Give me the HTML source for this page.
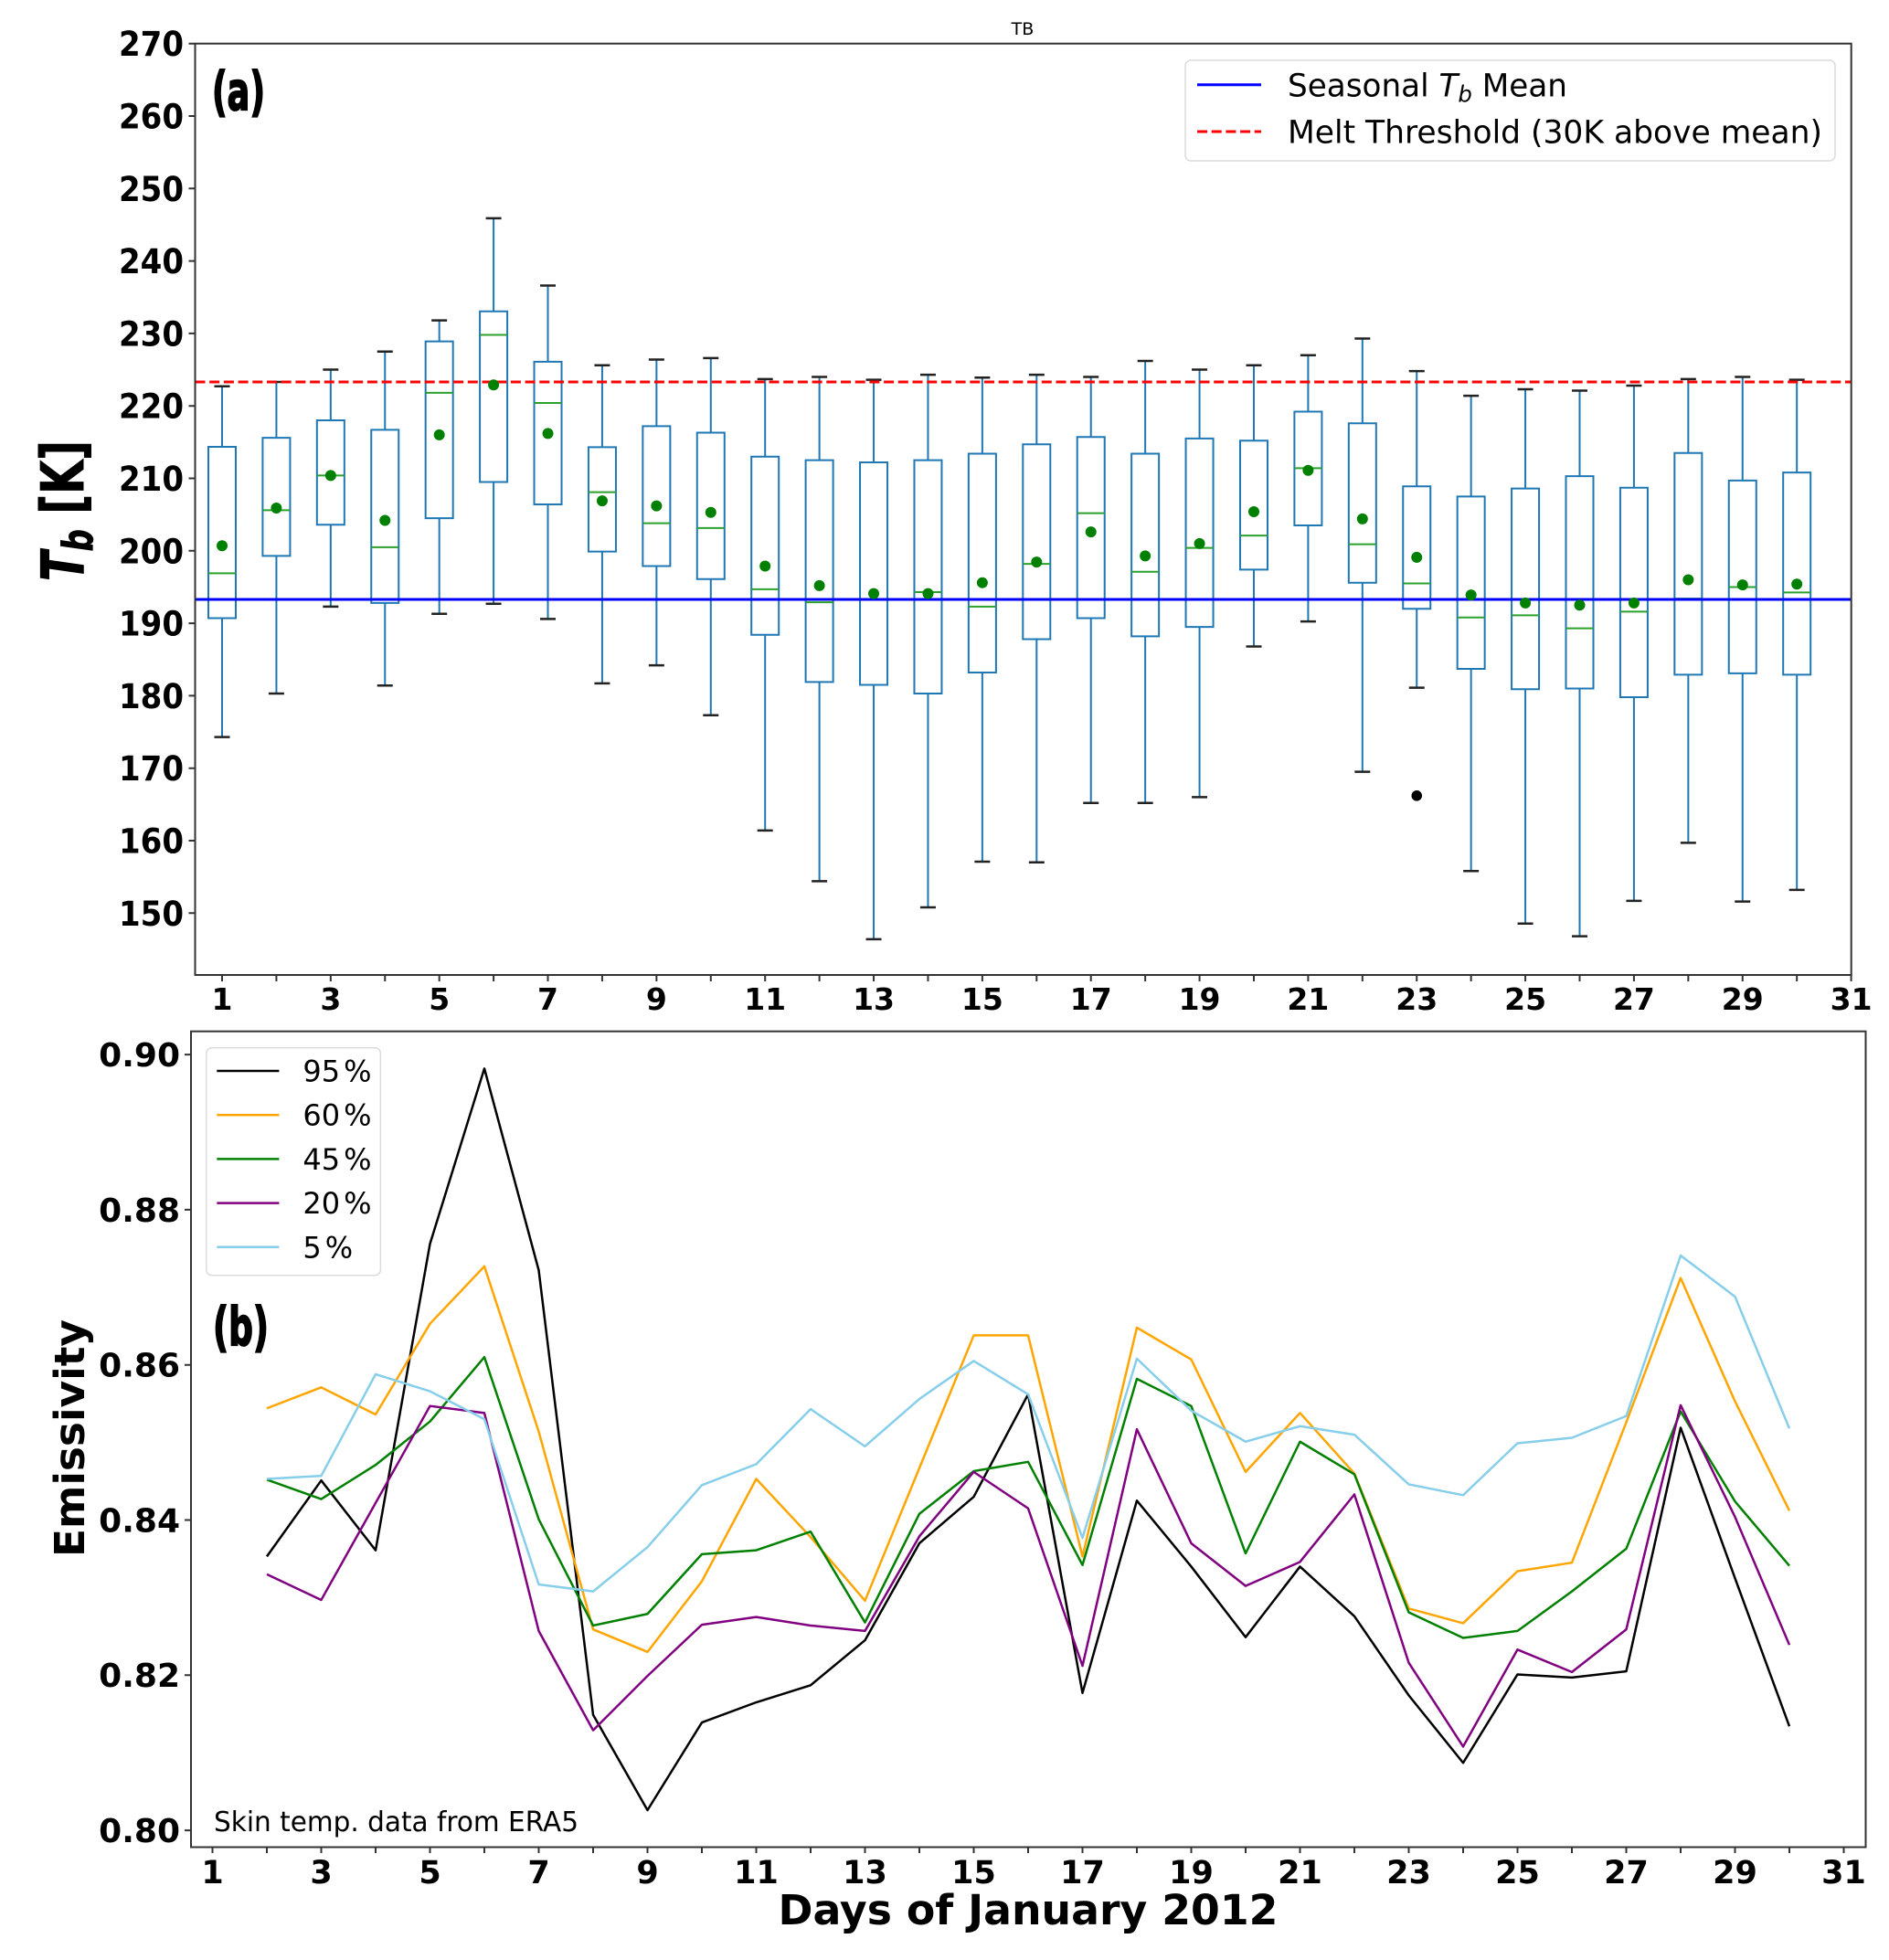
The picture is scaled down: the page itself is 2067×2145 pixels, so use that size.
<!DOCTYPE html>
<html>
<head>
<meta charset="utf-8">
<style>
html,body{margin:0;padding:0;background:#fff;}
svg{display:block;}
text{font-family:"DejaVu Sans","Liberation Sans",sans-serif;fill:#000;}
.b{font-weight:bold;}
</style>
</head>
<body>
<svg width="2067" height="2145" viewBox="0 0 2067 2145" xmlns="http://www.w3.org/2000/svg">
<rect x="0" y="0" width="2067" height="2145" fill="#fff"/>

<!-- ================= TOP PANEL ================= -->
<text x="1119" y="38" font-size="19" text-anchor="middle">TB</text>

<!-- boxplots in data space -->
<g transform="matrix(59.42 0 0 -7.93 183.58 2188.8)" fill="none">
<path vector-effect="non-scaling-stroke" stroke="#1f77b4" stroke-width="2" d="M1 214.35V222.7M1 190.7V174.3M2 215.6V223.3M2 199.3V180.3M3 218V225M3 203.6V192.3M4 216.7V227.5M4 192.8V181.4M5 228.9V231.8M5 204.5V191.3M6 233.05V245.9M6 209.5V192.7M7 226.1V236.6M7 206.4V190.6M8 214.3V225.6M8 199.9V181.7M9 217.2V226.4M9 197.9V184.2M10 216.3V226.6M10 196.1V177.3M11 213V223.7M11 188.4V161.4M12 212.5V224M12 181.9V154.4M13 212.2V223.6M13 181.5V146.4M14 212.5V224.3M14 180.3V150.8M15 213.4V223.9M15 183.2V157.1M16 214.7V224.3M16 187.8V157M17 215.7V224M17 190.7V165.2M18 213.4V226.2M18 188.2V165.2M19 215.5V225M19 189.5V166M20 215.2V225.6M20 197.4V186.8M21 219.2V227M21 203.5V190.25M22 217.6V229.3M22 195.6V169.5M23 208.9V224.8M23 192V181.1M24 207.5V221.4M24 183.7V155.8M25 208.6V222.3M25 180.9V148.55M26 210.3V222.1M26 181V146.8M27 208.7V222.8M27 179.8V151.7M28 213.5V223.7M28 182.9V159.7M29 209.7V224M29 183.1V151.6M30 210.8V223.6M30 182.9V153.2"/>
<path vector-effect="non-scaling-stroke" stroke="#1f77b4" stroke-width="2" d="M.7475 190.7H1.2525V214.35H.7475ZM1.7475 199.3H2.2525V215.6H1.7475ZM2.7475 203.6H3.2525V218H2.7475ZM3.7475 192.8H4.2525V216.7H3.7475ZM4.7475 204.5H5.2525V228.9H4.7475ZM5.7475 209.5H6.2525V233.05H5.7475ZM6.7475 206.4H7.2525V226.1H6.7475ZM7.7475 199.9H8.2525V214.3H7.7475ZM8.7475 197.9H9.2525V217.2H8.7475ZM9.7475 196.1H10.2525V216.3H9.7475ZM10.7475 188.4H11.2525V213H10.7475ZM11.7475 181.9H12.2525V212.5H11.7475ZM12.7475 181.5H13.2525V212.2H12.7475ZM13.7475 180.3H14.2525V212.5H13.7475ZM14.7475 183.2H15.2525V213.4H14.7475ZM15.7475 187.8H16.2525V214.7H15.7475ZM16.7475 190.7H17.2525V215.7H16.7475ZM17.7475 188.2H18.2525V213.4H17.7475ZM18.7475 189.5H19.2525V215.5H18.7475ZM19.7475 197.4H20.2525V215.2H19.7475ZM20.7475 203.5H21.2525V219.2H20.7475ZM21.7475 195.6H22.2525V217.6H21.7475ZM22.7475 192H23.2525V208.9H22.7475ZM23.7475 183.7H24.2525V207.5H23.7475ZM24.7475 180.9H25.2525V208.6H24.7475ZM25.7475 181H26.2525V210.3H25.7475ZM26.7475 179.8H27.2525V208.7H26.7475ZM27.7475 182.9H28.2525V213.5H27.7475ZM28.7475 183.1H29.2525V209.7H28.7475ZM29.7475 182.9H30.2525V210.8H29.7475Z"/>
<path vector-effect="non-scaling-stroke" stroke="#222" stroke-width="2.5" d="M.857 222.7H1.143M.857 174.3H1.143M1.857 223.3H2.143M1.857 180.3H2.143M2.857 225H3.143M2.857 192.3H3.143M3.857 227.5H4.143M3.857 181.4H4.143M4.857 231.8H5.143M4.857 191.3H5.143M5.857 245.9H6.143M5.857 192.7H6.143M6.857 236.6H7.143M6.857 190.6H7.143M7.857 225.6H8.143M7.857 181.7H8.143M8.857 226.4H9.143M8.857 184.2H9.143M9.857 226.6H10.143M9.857 177.3H10.143M10.857 223.7H11.143M10.857 161.4H11.143M11.857 224H12.143M11.857 154.4H12.143M12.857 223.6H13.143M12.857 146.4H13.143M13.857 224.3H14.143M13.857 150.8H14.143M14.857 223.9H15.143M14.857 157.1H15.143M15.857 224.3H16.143M15.857 157H16.143M16.857 224H17.143M16.857 165.2H17.143M17.857 226.2H18.143M17.857 165.2H18.143M18.857 225H19.143M18.857 166H19.143M19.857 225.6H20.143M19.857 186.8H20.143M20.857 227H21.143M20.857 190.25H21.143M21.857 229.3H22.143M21.857 169.5H22.143M22.857 224.8H23.143M22.857 181.1H23.143M23.857 221.4H24.143M23.857 155.8H24.143M24.857 222.3H25.143M24.857 148.55H25.143M25.857 222.1H26.143M25.857 146.8H26.143M26.857 222.8H27.143M26.857 151.7H27.143M27.857 223.7H28.143M27.857 159.7H28.143M28.857 224H29.143M28.857 151.6H29.143M29.857 223.6H30.143M29.857 153.2H30.143"/>
<path vector-effect="non-scaling-stroke" stroke="#2ca02c" stroke-width="2" d="M.7475 196.9H1.2525M1.7475 205.6H2.2525M2.7475 210.4H3.2525M3.7475 200.5H4.2525M4.7475 221.8H5.2525M5.7475 229.8H6.2525M6.7475 220.4H7.2525M7.7475 208.1H8.2525M8.7475 203.8H9.2525M9.7475 203.15H10.2525M10.7475 194.7H11.2525M11.7475 192.9H12.2525M12.7475 193.25H13.2525M13.7475 194.3H14.2525M14.7475 192.3H15.2525M15.7475 198.2H16.2525M16.7475 205.2H17.2525M17.7475 197.1H18.2525M18.7475 200.4H19.2525M19.7475 202.1H20.2525M20.7475 211.4H21.2525M21.7475 200.9H22.2525M22.7475 195.5H23.2525M23.7475 190.8H24.2525M24.7475 191.1H25.2525M25.7475 189.3H26.2525M26.7475 191.6H27.2525M27.7475 193.4H28.2525M28.7475 195H29.2525M29.7475 194.25H30.2525"/>
</g>

<!-- mean lines -->
<line x1="213.5" y1="656" x2="2025.7" y2="656" stroke="#0000ff" stroke-width="3"/>
<line x1="213.5" y1="418" x2="2025.7" y2="418" stroke="#ff0000" stroke-width="3" stroke-dasharray="11 4.7"/>

<!-- means + outlier -->
<g transform="matrix(59.42 0 0 -7.93 183.58 2188.8)" fill="#008000">
<ellipse cx="1" cy="200.7" rx="0.101" ry="0.757"/>
<ellipse cx="2" cy="205.9" rx="0.101" ry="0.757"/>
<ellipse cx="3" cy="210.4" rx="0.101" ry="0.757"/>
<ellipse cx="4" cy="204.2" rx="0.101" ry="0.757"/>
<ellipse cx="5" cy="216.0" rx="0.101" ry="0.757"/>
<ellipse cx="6" cy="222.9" rx="0.101" ry="0.757"/>
<ellipse cx="7" cy="216.2" rx="0.101" ry="0.757"/>
<ellipse cx="8" cy="206.9" rx="0.101" ry="0.757"/>
<ellipse cx="9" cy="206.2" rx="0.101" ry="0.757"/>
<ellipse cx="10" cy="205.3" rx="0.101" ry="0.757"/>
<ellipse cx="11" cy="197.9" rx="0.101" ry="0.757"/>
<ellipse cx="12" cy="195.2" rx="0.101" ry="0.757"/>
<ellipse cx="13" cy="194.1" rx="0.101" ry="0.757"/>
<ellipse cx="14" cy="194.1" rx="0.101" ry="0.757"/>
<ellipse cx="15" cy="195.6" rx="0.101" ry="0.757"/>
<ellipse cx="16" cy="198.45" rx="0.101" ry="0.757"/>
<ellipse cx="17" cy="202.6" rx="0.101" ry="0.757"/>
<ellipse cx="18" cy="199.3" rx="0.101" ry="0.757"/>
<ellipse cx="19" cy="201.0" rx="0.101" ry="0.757"/>
<ellipse cx="20" cy="205.4" rx="0.101" ry="0.757"/>
<ellipse cx="21" cy="211.1" rx="0.101" ry="0.757"/>
<ellipse cx="22" cy="204.4" rx="0.101" ry="0.757"/>
<ellipse cx="23" cy="199.1" rx="0.101" ry="0.757"/>
<ellipse cx="24" cy="193.9" rx="0.101" ry="0.757"/>
<ellipse cx="25" cy="192.8" rx="0.101" ry="0.757"/>
<ellipse cx="26" cy="192.5" rx="0.101" ry="0.757"/>
<ellipse cx="27" cy="192.8" rx="0.101" ry="0.757"/>
<ellipse cx="28" cy="196.0" rx="0.101" ry="0.757"/>
<ellipse cx="29" cy="195.3" rx="0.101" ry="0.757"/>
<ellipse cx="30" cy="195.4" rx="0.101" ry="0.757"/>
<ellipse cx="23" cy="166.2" rx="0.097" ry="0.73" fill="#000"/>
</g>

<!-- top axes frame -->
<rect x="213.5" y="47.7" width="1812.2" height="1019.3" fill="none" stroke="#333" stroke-width="2"/>

<!-- top y ticks -->
<path stroke="#333" stroke-width="2" d="M206.5 999.3H213.5M206.5 920H213.5M206.5 840.7H213.5M206.5 761.4H213.5M206.5 682.1H213.5M206.5 602.8H213.5M206.5 523.5H213.5M206.5 444.2H213.5M206.5 364.9H213.5M206.5 285.6H213.5M206.5 206.3H213.5M206.5 127H213.5M206.5 47.7H213.5"/>
<g class="b" font-size="37" text-anchor="end">
<text x="201" y="1012.8" textLength="71" lengthAdjust="spacingAndGlyphs">150</text>
<text x="201" y="933.5" textLength="71" lengthAdjust="spacingAndGlyphs">160</text>
<text x="201" y="854.2" textLength="71" lengthAdjust="spacingAndGlyphs">170</text>
<text x="201" y="774.9" textLength="71" lengthAdjust="spacingAndGlyphs">180</text>
<text x="201" y="695.6" textLength="71" lengthAdjust="spacingAndGlyphs">190</text>
<text x="201" y="616.3" textLength="71" lengthAdjust="spacingAndGlyphs">200</text>
<text x="201" y="537" textLength="71" lengthAdjust="spacingAndGlyphs">210</text>
<text x="201" y="457.7" textLength="71" lengthAdjust="spacingAndGlyphs">220</text>
<text x="201" y="378.4" textLength="71" lengthAdjust="spacingAndGlyphs">230</text>
<text x="201" y="299.1" textLength="71" lengthAdjust="spacingAndGlyphs">240</text>
<text x="201" y="219.8" textLength="71" lengthAdjust="spacingAndGlyphs">250</text>
<text x="201" y="140.5" textLength="71" lengthAdjust="spacingAndGlyphs">260</text>
<text x="201" y="61.2" textLength="71" lengthAdjust="spacingAndGlyphs">270</text>
</g>

<!-- top x ticks -->
<path stroke="#333" stroke-width="2" d="M243 1067V1074M302.42 1067V1074M361.84 1067V1074M421.26 1067V1074M480.68 1067V1074M540.1 1067V1074M599.52 1067V1074M658.94 1067V1074M718.36 1067V1074M777.78 1067V1074M837.2 1067V1074M896.62 1067V1074M956.04 1067V1074M1015.46 1067V1074M1074.88 1067V1074M1134.3 1067V1074M1193.72 1067V1074M1253.14 1067V1074M1312.56 1067V1074M1371.98 1067V1074M1431.4 1067V1074M1490.82 1067V1074M1550.24 1067V1074M1609.66 1067V1074M1669.08 1067V1074M1728.5 1067V1074M1787.92 1067V1074M1847.34 1067V1074M1906.76 1067V1074M1966.18 1067V1074M2025.6 1067V1074"/>
<g class="b" font-size="33" text-anchor="middle">
<text x="243" y="1105">1</text>
<text x="361.84" y="1105">3</text>
<text x="480.68" y="1105">5</text>
<text x="599.52" y="1105">7</text>
<text x="718.36" y="1105">9</text>
<text x="837.2" y="1105">11</text>
<text x="956.04" y="1105">13</text>
<text x="1074.88" y="1105">15</text>
<text x="1193.72" y="1105">17</text>
<text x="1312.56" y="1105">19</text>
<text x="1431.4" y="1105">21</text>
<text x="1550.24" y="1105">23</text>
<text x="1669.08" y="1105">25</text>
<text x="1787.92" y="1105">27</text>
<text x="1906.76" y="1105">29</text>
<text x="2025.6" y="1105">31</text>
</g>

<!-- top y label -->
<text class="b" transform="translate(91,559) rotate(-90)" font-size="64" text-anchor="middle" textLength="154" lengthAdjust="spacingAndGlyphs" stroke="#000" stroke-width="1"><tspan font-style="italic">T</tspan><tspan font-style="italic" font-size="45" dy="10">b</tspan><tspan dy="-10"> [K]</tspan></text>

<!-- (a) -->
<text class="b" x="232" y="120" font-size="58" textLength="58" lengthAdjust="spacingAndGlyphs" stroke="#000" stroke-width="2">(a)</text>

<!-- top legend -->
<rect x="1297" y="66" width="711" height="110" rx="6" ry="6" fill="#fff" fill-opacity="0.8" stroke="#dcdcdc" stroke-width="1.5"/>
<line x1="1310" y1="92.7" x2="1380" y2="92.7" stroke="#0000ff" stroke-width="3"/>
<line x1="1310" y1="144" x2="1380" y2="144" stroke="#ff0000" stroke-width="3" stroke-dasharray="11 4.7"/>
<text x="1409" y="105.5" font-size="35" textLength="306" lengthAdjust="spacingAndGlyphs">Seasonal <tspan font-style="italic">T</tspan><tspan font-style="italic" font-size="25" dy="6">b</tspan><tspan dy="-6"> Mean</tspan></text>
<text x="1409" y="156.7" font-size="35" textLength="585" lengthAdjust="spacingAndGlyphs">Melt Threshold (30K above mean)</text>

<!-- ================= BOTTOM PANEL ================= -->
<g transform="matrix(59.5 0 0 -8490 173 8795.1)" fill="none" stroke-width="2.5" stroke-linejoin="round">
<polyline vector-effect="non-scaling-stroke" stroke="#000000" points="2,.8353 3,.8451 4,.8361 5,.8756 6,.8982 7,.8722 8,.8149 9,.8026 10,.8139 11,.8165 12,.8187 13,.8245 14,.8370 15,.8430 16,.8562 17,.8177 18,.8425 19,.8340 20,.8249 21,.8340 22,.8276 23,.8174 24,.8087 25,.8201 26,.8197 27,.8205 28,.8519 29,.8325 30,.8134"/>
<polyline vector-effect="non-scaling-stroke" stroke="#ffa500" points="2,.8544 3,.8571 4,.8536 5,.8653 6,.8727 7,.8514 8,.8259 9,.8230 10,.8321 11,.8453 12,.8378 13,.8296 14,.8467 15,.8638 16,.8638 17,.8353 18,.8648 19,.8607 20,.8462 21,.8538 22,.8460 23,.8286 24,.8267 25,.8334 26,.8345 27,.8526 28,.8712 29,.8553 30,.8412"/>
<polyline vector-effect="non-scaling-stroke" stroke="#008000" points="2,.8452 3,.8427 4,.8471 5,.8527 6,.8610 7,.8401 8,.8264 9,.8279 10,.8356 11,.8361 12,.8385 13,.8268 14,.8408 15,.8463 16,.8475 17,.8342 18,.8582 19,.8547 20,.8357 21,.8501 22,.8459 23,.8281 24,.8248 25,.8257 26,.8308 27,.8363 28,.8540 29,.8424 30,.8341"/>
<polyline vector-effect="non-scaling-stroke" stroke="#800080" points="2,.8330 3,.8297 4,.8422 5,.8547 6,.8538 7,.8257 8,.8129 9,.8199 10,.8265 11,.8275 12,.8264 13,.8257 14,.8379 15,.8462 16,.8415 17,.8212 18,.8517 19,.8370 20,.8315 21,.8346 22,.8433 23,.8216 24,.8108 25,.8233 26,.8204 27,.8259 28,.8548 29,.8404 30,.8239"/>
<polyline vector-effect="non-scaling-stroke" stroke="#87ceeb" points="2,.8453 3,.8457 4,.8588 5,.8566 6,.8530 7,.8317 8,.8308 9,.8365 10,.8445 11,.8472 12,.8543 13,.8495 14,.8556 15,.8605 16,.8562 17,.8377 18,.8608 19,.8541 20,.8501 21,.8521 22,.8510 23,.8446 24,.8432 25,.8499 26,.8506 27,.8534 28,.8741 29,.8688 30,.8518"/>
</g>

<!-- bottom axes frame -->
<rect x="209" y="1128.7" width="1832.5" height="892.8" fill="none" stroke="#333" stroke-width="2"/>

<!-- bottom y ticks -->
<path stroke="#333" stroke-width="2" d="M202 2003.1H209M202 1833.3H209M202 1663.5H209M202 1493.7H209M202 1323.9H209M202 1154.1H209"/>
<g class="b" font-size="36" text-anchor="end">
<text x="197" y="2016">0.80</text>
<text x="197" y="1846.2">0.82</text>
<text x="197" y="1676.4">0.84</text>
<text x="197" y="1506.6">0.86</text>
<text x="197" y="1336.8">0.88</text>
<text x="197" y="1167">0.90</text>
</g>

<!-- bottom x ticks -->
<path stroke="#333" stroke-width="2" d="M232.5 2021.5V2028M292 2021.5V2028M351.5 2021.5V2028M411 2021.5V2028M470.5 2021.5V2028M530 2021.5V2028M589.5 2021.5V2028M649 2021.5V2028M708.5 2021.5V2028M768 2021.5V2028M827.5 2021.5V2028M887 2021.5V2028M946.5 2021.5V2028M1006 2021.5V2028M1065.5 2021.5V2028M1125 2021.5V2028M1184.5 2021.5V2028M1244 2021.5V2028M1303.5 2021.5V2028M1363 2021.5V2028M1422.5 2021.5V2028M1482 2021.5V2028M1541.5 2021.5V2028M1601 2021.5V2028M1660.5 2021.5V2028M1720 2021.5V2028M1779.5 2021.5V2028M1839 2021.5V2028M1898.5 2021.5V2028M1958 2021.5V2028M2017.5 2021.5V2028"/>
<g class="b" font-size="35" text-anchor="middle">
<text x="232.5" y="2061">1</text>
<text x="351.5" y="2061">3</text>
<text x="470.5" y="2061">5</text>
<text x="589.5" y="2061">7</text>
<text x="708.5" y="2061">9</text>
<text x="827.5" y="2061">11</text>
<text x="946.5" y="2061">13</text>
<text x="1065.5" y="2061">15</text>
<text x="1184.5" y="2061">17</text>
<text x="1303.5" y="2061">19</text>
<text x="1422.5" y="2061">21</text>
<text x="1541.5" y="2061">23</text>
<text x="1660.5" y="2061">25</text>
<text x="1779.5" y="2061">27</text>
<text x="1898.5" y="2061">29</text>
<text x="2017.5" y="2061">31</text>
</g>

<!-- bottom labels -->
<text class="b" x="1125" y="2106" font-size="45" text-anchor="middle" textLength="547" lengthAdjust="spacingAndGlyphs">Days of January 2012</text>
<text class="b" transform="translate(92,1574) rotate(-90)" font-size="45" text-anchor="middle" textLength="260" lengthAdjust="spacingAndGlyphs">Emissivity</text>
<text class="b" x="233" y="1472" font-size="58" textLength="61" lengthAdjust="spacingAndGlyphs" stroke="#000" stroke-width="2">(b)</text>
<text x="234" y="2004" font-size="30" textLength="399" lengthAdjust="spacingAndGlyphs">Skin temp. data from ERA5</text>

<!-- bottom legend -->
<rect x="225.8" y="1146.7" width="190.6" height="249" rx="6" ry="6" fill="#fff" fill-opacity="0.8" stroke="#dcdcdc" stroke-width="1.5"/>
<g stroke-width="2.5">
<line x1="237.3" y1="1172" x2="305.4" y2="1172" stroke="#000000"/>
<line x1="237.3" y1="1220.2" x2="305.4" y2="1220.2" stroke="#ffa500"/>
<line x1="237.3" y1="1268.4" x2="305.4" y2="1268.4" stroke="#008000"/>
<line x1="237.3" y1="1316.6" x2="305.4" y2="1316.6" stroke="#800080"/>
<line x1="237.3" y1="1364.8" x2="305.4" y2="1364.8" stroke="#87ceeb"/>
</g>
<g font-size="32">
<text x="331.4" y="1183.5">95<tspan dx="4">%</tspan></text>
<text x="331.4" y="1231.7">60<tspan dx="4">%</tspan></text>
<text x="331.4" y="1279.9">45<tspan dx="4">%</tspan></text>
<text x="331.4" y="1328.1">20<tspan dx="4">%</tspan></text>
<text x="331.4" y="1376.3">5<tspan dx="4">%</tspan></text>
</g>
</svg>
</body>
</html>
